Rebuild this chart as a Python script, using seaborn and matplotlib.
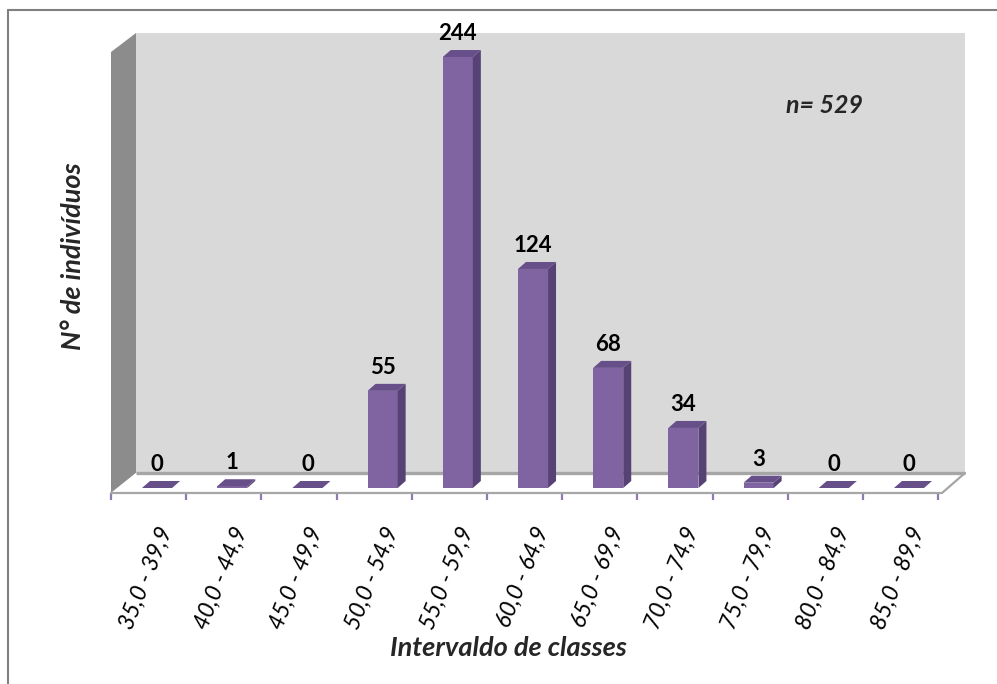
import numpy as np
import pandas as pd
import matplotlib
matplotlib.use("Agg")
import matplotlib.pyplot as plt
from matplotlib.patches import Polygon
from matplotlib.lines import Line2D
import seaborn as sns

# Frequency table
classes = ["35,0 - 39,9", "40,0 - 44,9", "45,0 - 49,9", "50,0 - 54,9",
           "55,0 - 59,9", "60,0 - 64,9", "65,0 - 69,9", "70,0 - 74,9",
           "75,0 - 79,9", "80,0 - 84,9", "85,0 - 89,9"]
counts = [0, 1, 0, 55, 244, 124, 68, 34, 3, 0, 0]
total_label = "n= 529"
x_title = "Intervaldo de classes"
y_title = "N° de indivíduos"

FRONT = "#8064a2"
TOP = "#674f89"
SIDE = "#574276"
WALL = "#d9d9d9"
SIDE_WALL = "#8c8c8c"
EDGE = "#a6a6a6"

sns.set_theme(style="white")
plt.rcParams["font.family"] = ["Lato", "DejaVu Sans"]

W, H = 997, 684
fig = plt.figure(figsize=(W / 100, H / 100), dpi=100)
fig.patch.set_facecolor("white")

# axes box in pixel terms (left, top, right, bottom)
L, T, R, B = 111, 33, 965, 493
ax = fig.add_axes([L / W, 1 - B / H, (R - L) / W, (B - T) / H])
ax.set_facecolor("none")
for s in ax.spines.values():
    s.set_visible(False)

df = pd.DataFrame({"classe": classes, "n": counts})
sns.barplot(data=df, x="classe", y="n", color=FRONT, saturation=1,
            width=0.40, linewidth=0, ax=ax, zorder=4)

ax.set_xlim(-0.612, 10.745)
ax.set_ylim(-2.83, 257.6)
ax.set_yticks([])

# 3-D room: floor, back wall and left wall (axes fraction)
ddx = 25 / (R - L)
ddy = 20 / (B - T)
fx = 1 - 23 / (R - L)
back = Polygon([(ddx, ddy), (1, ddy), (1, 1), (ddx, 1)], closed=True,
               transform=ax.transAxes, facecolor=WALL, edgecolor="none",
               zorder=0, clip_on=False)
left = Polygon([(0, 0), (0, (B - 52) / (B - T)), (ddx, 1), (ddx, ddy)],
               closed=True, transform=ax.transAxes, facecolor=SIDE_WALL,
               edgecolor="none", zorder=1, clip_on=False)
floor = Polygon([(0, 0), (fx, 0), (1, ddy), (ddx, ddy)], closed=True,
                transform=ax.transAxes, facecolor="white", edgecolor="none",
                zorder=1, clip_on=False)
for p in (back, left, floor):
    ax.add_patch(p)
ax.add_line(Line2D([ddx, 1], [ddy, ddy], transform=ax.transAxes, color=EDGE,
                   lw=2.4, zorder=2, clip_on=False, solid_capstyle="butt"))
ax.add_line(Line2D([0, fx, 1], [0, 0, ddy], transform=ax.transAxes,
                   color=EDGE, lw=1.6, zorder=2, clip_on=False))

# depth of the bars in data units
xpp = (ax.get_xlim()[1] - ax.get_xlim()[0]) / (R - L)
ypp = (ax.get_ylim()[1] - ax.get_ylim()[0]) / (B - T)
bdx, bdy = 8 * xpp, 7 * ypp

for bar, v in zip(ax.patches, counts):
    x0 = bar.get_x()
    w = bar.get_width()
    h = bar.get_height()
    top = Polygon([(x0, h), (x0 + w, h), (x0 + w + bdx, h + bdy),
                   (x0 + bdx, h + bdy)], closed=True, facecolor=TOP,
                  edgecolor="none", zorder=5)
    side = Polygon([(x0 + w, 0), (x0 + w + bdx, bdy), (x0 + w + bdx, h + bdy),
                    (x0 + w, h)], closed=True, facecolor=SIDE,
                   edgecolor="none", zorder=5)
    ax.add_patch(side)
    ax.add_patch(top)
    ax.annotate(f"{v}", xy=(x0 + w / 2, h), xytext=(0, 12.2),
                textcoords="offset points", ha="center", va="baseline",
                fontsize=16, fontweight="bold", color="black", zorder=6)

# category ticks on the boundaries, labels under each bar
bounds = np.arange(len(classes) + 1) - 0.612
ax.set_xticks(bounds, minor=True)
ax.set_xticks(np.arange(len(classes)))
ax.set_xticklabels(classes)
ax.tick_params(axis="x", which="major", length=0, pad=22)
ax.tick_params(axis="x", which="minor", length=5, width=1.6,
               color="#8f7ab0", direction="out", bottom=True)
for lab in ax.get_xticklabels():
    lab.set_rotation(68)
    lab.set_rotation_mode("anchor")
    lab.set_ha("right")
    lab.set_va("top")
    lab.set_fontsize(16.5)
    lab.set_fontstyle("italic")
    lab.set_color("black")

ax.set_xlabel("")
ax.set_ylabel("")
fig.text(508 / W, 1 - 648 / H, x_title, ha="center", va="center",
         fontsize=19.5, fontweight="bold", fontstyle="italic")
fig.text(73 / W, 1 - 256 / H, y_title, ha="center", va="center",
         rotation=90, fontsize=19.5, fontweight="bold", fontstyle="italic")
ax.text(0.835, 0.843, total_label, transform=ax.transAxes, ha="center",
        va="center", fontsize=18, fontweight="bold", fontstyle="italic")

# outer frame
fx0, fy0 = 8 / W, 1 - 10 / H
fig.add_artist(Line2D([fx0, 1.01], [fy0, fy0], color="#808080", lw=1.5))
fig.add_artist(Line2D([fx0, fx0], [-0.01, fy0], color="#808080", lw=1.5))

fig.savefig("out.png", dpi=100)
